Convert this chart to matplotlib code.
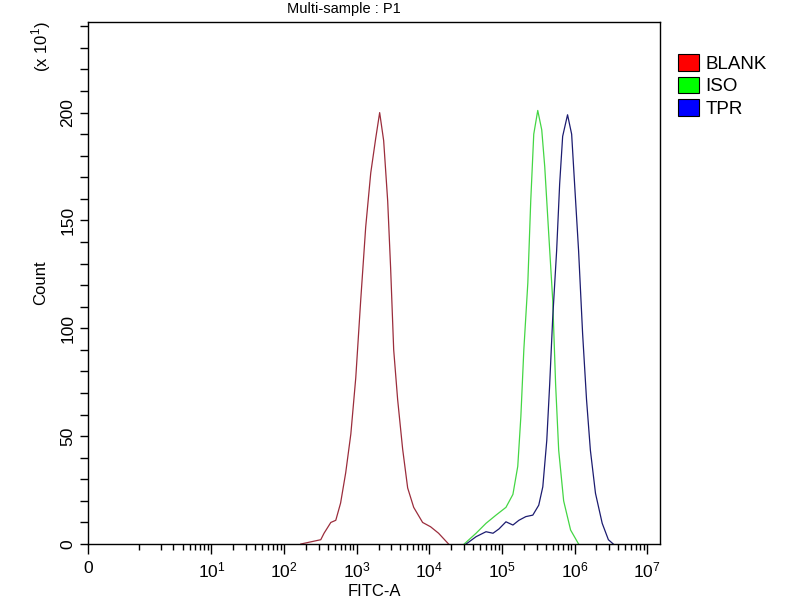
import numpy as np
import matplotlib
matplotlib.use('Agg')
import matplotlib.pyplot as plt
from matplotlib.patches import Patch

plt.rcParams['font.family'] = ['Liberation Sans', 'DejaVu Sans']
plt.rcParams['mathtext.fontset'] = 'custom'
plt.rcParams['mathtext.rm'] = 'Liberation Sans'

### Histogram values (FITC-A intensity, count / 10)
blank_fitc = [170, 320, 355, 440, 515, 600, 705, 830, 970, 1135, 1330, 1560,
              1825, 2070, 2350, 2670, 2930, 3230, 3660, 4290, 5030, 6090,
              8080, 10400, 13400, 18400]
blank_count = [0, 2, 5, 10, 11, 19, 33, 51, 77, 113, 147, 172,
               188, 200, 187, 159, 128, 90, 67, 44, 26, 17,
               10, 8, 5, 0]
blank_zero_count = 6

iso_fitc = [30200, 44000, 60300, 82800, 113500, 141500, 165000, 182000,
            200000, 227000, 249000, 274000, 311000, 353000, 388000, 440000,
            500000, 548000, 604000, 707000, 881000, 1135000]
iso_count = [0, 5, 9.6, 13.4, 17, 23, 36, 59,
             90, 121, 159, 190, 201, 192, 175, 144,
             113, 74, 43.5, 20, 6.5, 0]

tpr_fitc = [32100, 44000, 60300, 75300, 91000, 113500, 141500, 171000,
            213000, 266000, 321000, 365000, 414000, 454000, 500000, 566000,
            623000, 685000, 800000, 911000, 1000000, 1135000, 1290000,
            1460000, 1650000, 1940000, 2400000, 2920000, 3410000]
tpr_count = [0, 3.4, 5.7, 5, 7, 10.3, 8.8, 11,
             12.7, 13.4, 18, 26.5, 48, 74, 105, 136,
             167, 189, 199, 190, 167, 136, 97.5,
             67, 43.5, 23.5, 9.6, 2, 0]

sample_names = ['BLANK', 'ISO', 'TPR']
legend_colors = ['#ff0000', '#00ff00', '#0000ff']
line_colors = ['#9b2d3c', '#44d644', '#1c1c70']

fig = plt.figure(figsize=(8, 6), dpi=100)
ax = fig.add_axes([0.11, 0.0933, 0.715, 0.87])

ax.plot([0, 0], [0, blank_zero_count], color=line_colors[0], lw=1.2)
ax.plot(blank_fitc, blank_count, color=line_colors[0], lw=0.9)
ax.plot(iso_fitc, iso_count, color=line_colors[1], lw=0.9)
ax.plot(tpr_fitc, tpr_count, color=line_colors[2], lw=0.9)

### biexponential-like axis: linear near zero, log above
ax.set_xscale('symlog', linthresh=1, linscale=0.63)
ax.set_xlim(0, 1.5e7)
ax.set_ylim(0, 242)

major_x = [0] + [10 ** k for k in range(1, 8)]
ax.set_xticks(major_x)
ax.set_xticklabels(['0'] + [r'$\mathregular{10^{%d}}$' % k for k in range(1, 8)])
minor_x = [m * 10 ** k for k in range(0, 7) for m in range(1, 10) if m * 10 ** k not in major_x]
ax.set_xticks(minor_x, minor=True)

ax.set_yticks(np.arange(0, 241, 50))
ax.set_yticks(np.arange(0, 241, 10), minor=True)
ax.tick_params(axis='x', which='major', length=7, width=1, labelsize=12.5, pad=5)
ax.tick_params(axis='x', which='minor', length=4, width=1)
ax.tick_params(axis='y', which='both', length=6, width=1, labelsize=12.5, labelrotation=90, pad=3)
for lbl in ax.get_yticklabels():
    lbl.set_va('center')

for s in ax.spines.values():
    s.set_linewidth(1.0)

fig.text(0.051, 0.5283, 'Count', rotation=90, ha='center', va='center', fontsize=12)
fig.text(0.051, 0.922, r'(x 10$^{\mathregular{1}}$)', rotation=90, ha='center', va='center', fontsize=12)
fig.text(0.468, 0.014, 'FITC-A', ha='center', va='center', fontsize=12)
fig.text(0.43, 0.978, 'Multi-sample : P1', ha='center', va='baseline', fontsize=10.5)

handles = [Patch(facecolor=c, edgecolor='black', lw=0.8) for c in legend_colors]
fig.legend(handles, sample_names, loc='upper left', bbox_to_anchor=(0.848, 0.91),
           frameon=False, fontsize=13.5, handlelength=1.1, handleheight=1.0,
           handletextpad=0.35, labelspacing=0.2, borderpad=0, borderaxespad=0)

fig.savefig('out.png', dpi=100)
